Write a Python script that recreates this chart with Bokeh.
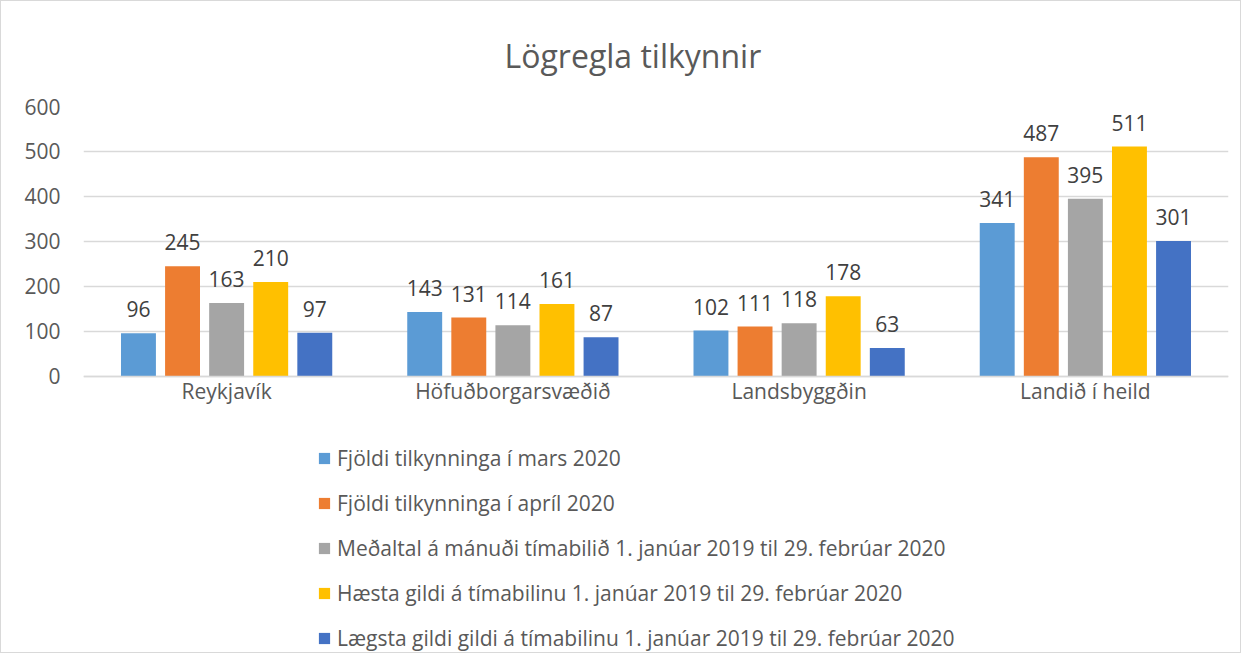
from bokeh.plotting import figure
from bokeh.models import ColumnDataSource, FactorRange, Range1d, LabelSet, Legend, LegendItem, FixedTicker
from bokeh.transform import dodge
from bokeh.core.properties import value
from bokeh.embed import file_html
from bokeh.resources import INLINE

categories = ["Reykjavík", "Höfuðborgarsvæðið", "Landsbyggðin", "Landið í heild"]
series_names = [
    "Fjöldi tilkynninga í mars 2020",
    "Fjöldi tilkynninga í apríl 2020",
    "Meðaltal á mánuði tímabilið 1. janúar 2019 til 29. febrúar 2020",
    "Hæsta gildi á tímabilinu 1. janúar 2019 til 29. febrúar 2020",
    "Lægsta gildi gildi á tímabilinu 1. janúar 2019 til 29. febrúar 2020",
]
mars = [96, 143, 102, 341]
april = [245, 131, 111, 487]
medaltal = [163, 114, 118, 395]
haesta = [210, 161, 178, 511]
laegsta = [97, 87, 63, 301]
y_ticks = [0, 100, 200, 300, 400, 500, 600]

colors = ["#5B9BD5", "#ED7D31", "#A5A5A5", "#FFC000", "#4472C4"]
series = [mars, april, medaltal, haesta, laegsta]
keys = ["s0", "s1", "s2", "s3", "s4"]

data = {"cat": categories}
for k, s in zip(keys, series):
    data[k] = s
    data[k + "_t"] = [str(v) for v in s]
src = ColumnDataSource(data)

FONT = "Open Sans"
TXT = "#595959"

# frame extends below the value axis so that the legend can sit inside it
p = figure(width=1241, height=653, x_range=FactorRange(*categories, range_padding=0),
           y_range=Range1d(-618, 600), output_backend="svg", toolbar_location=None,
           min_border_left=82, min_border_right=14, min_border_top=104, min_border_bottom=0)

p.title.text = "Lögregla tilkynnir"
p.title.align = "left"
p.title.text_font = FONT
p.title.text_font_size = "32px"
p.title.text_font_style = "normal"
p.title.text_color = TXT
p.title.offset = 421
p.title.standoff = 60

p.outline_line_color = None
p.styles = {"border": "1px solid #d9d9d9"}

step = 0.154
width = 0.122
offsets = [-2 * step, -step, 0, step, 2 * step]

items = []
for k, c, off, name in zip(keys, colors, offsets, series_names):
    r = p.vbar(x=dodge("cat", off, range=p.x_range), top=k, width=width, source=src,
               fill_color=c, line_color=None)
    lbl = LabelSet(x=dodge("cat", off, range=p.x_range), y=k, text=k + "_t", source=src,
                   text_align="center", text_baseline="bottom", y_offset=16,
                   text_font=value(FONT), text_font_size=value("21px"), text_color="#404040")
    p.add_layout(lbl)
    items.append(LegendItem(label=name, renderers=[r]))

legend = Legend(items=items, location=(234, 2), orientation="vertical",
                border_line_color=None, background_fill_alpha=0, padding=0, margin=0,
                glyph_width=14, glyph_height=14, label_height=21, spacing=17,
                label_standoff=6, label_text_font=FONT, label_text_font_size="21px",
                label_text_color=TXT)
p.add_layout(legend, "center")

p.yaxis.ticker = FixedTicker(ticks=y_ticks)
p.yaxis.axis_line_color = None
p.yaxis.major_tick_line_color = None
p.yaxis.minor_tick_line_color = None
p.yaxis.major_label_text_font = FONT
p.yaxis.major_label_text_font_size = "21px"
p.yaxis.major_label_text_color = TXT
p.yaxis.major_label_standoff = 17

p.xaxis.fixed_location = 0
p.xaxis.axis_line_color = "#d9d9d9"
p.xaxis.axis_line_width = 1.5
p.xaxis.major_tick_line_color = None
p.xaxis.minor_tick_line_color = None
p.xaxis.major_label_text_font = FONT
p.xaxis.major_label_text_font_size = "21px"
p.xaxis.major_label_text_color = TXT
p.xaxis.major_label_standoff = -5

p.xgrid.grid_line_color = None
p.ygrid.grid_line_color = "#d9d9d9"
p.ygrid.grid_line_width = 1.5

open("out.html", "w").write(file_html(p, INLINE))
